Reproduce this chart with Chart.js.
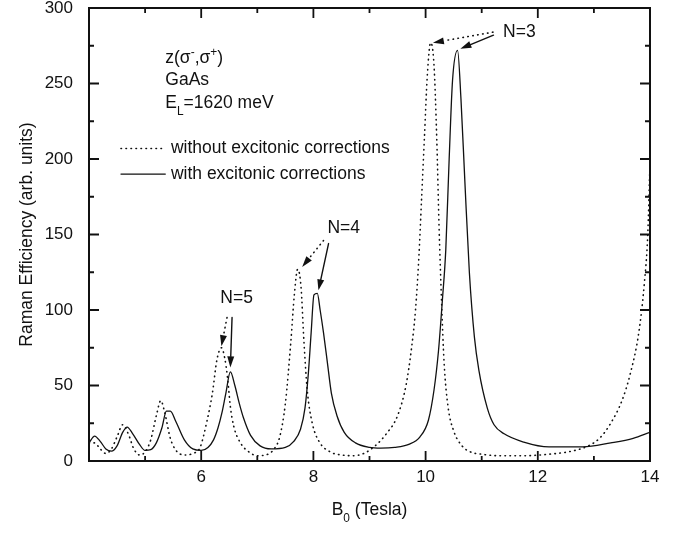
<!DOCTYPE html>
<html>
<head>
<meta charset="utf-8">
<script src="https://cdn.jsdelivr.net/npm/chart.js@4.4.1/dist/chart.umd.min.js"></script>
<style>
  html, body { margin: 0; padding: 0; background: #fff; }
  canvas { display: block; }
</style>
</head>
<body>
<canvas id="chart" width="685" height="533"></canvas>
<script>
// B0 (Tesla) and Raman efficiency
const withoutB = [4.0, 4.1, 4.2, 4.3, 4.4, 4.5, 4.6, 4.7, 4.8, 4.9, 5.0, 5.1, 5.2, 5.28, 5.35, 5.45, 5.55, 5.7,
  5.85, 5.98, 6.1, 6.2, 6.28, 6.36, 6.42, 6.47, 6.52, 6.58, 6.7, 6.85, 7.0, 7.15, 7.3, 7.4, 7.5, 7.6, 7.66,
  7.72, 7.78, 7.83, 7.89, 7.98, 8.1, 8.3, 8.5, 8.7, 8.9, 9.1, 9.3, 9.5, 9.65, 9.75, 9.82, 9.88, 9.93, 9.98,
  10.03, 10.09, 10.15, 10.2, 10.24, 10.28, 10.33, 10.4, 10.5, 10.65, 10.8, 11.0, 11.3, 11.75, 12.2, 12.6,
  12.9, 13.1, 13.3, 13.5, 13.65, 13.8, 13.9, 13.96, 14.0];
const withoutEff = [12, 12, 8, 5, 8, 16, 24, 18, 8, 4, 6, 14, 30, 40, 32, 15, 7, 4,
  5, 9, 26, 45, 67, 75, 68, 55, 36, 23, 12, 6, 3.5, 4, 8, 16, 38, 80, 110,
  127, 115, 80, 47, 25, 13, 6, 4, 3.5, 5, 10, 18, 30, 50, 75, 100, 135, 175, 215,
  255, 277, 262, 212, 155, 110, 65, 36, 20, 10, 6, 4.5, 3.5, 3.5, 4.5, 6.5,
  10, 15, 25, 40, 58, 85, 118, 150, 198];

const withB = [4.0, 4.1, 4.2, 4.3, 4.4, 4.5, 4.6, 4.68, 4.78, 4.9, 5.0, 5.1, 5.2, 5.3, 5.38, 5.45, 5.55, 5.7,
  5.85, 6.0, 6.12, 6.22, 6.3, 6.37, 6.44, 6.52, 6.6, 6.68, 6.75, 6.88, 7.05, 7.25, 7.5, 7.65, 7.77, 7.85,
  7.91, 7.96, 8.01, 8.07, 8.12, 8.18, 8.25, 8.32, 8.42, 8.55, 8.75, 9.0, 9.2, 9.45, 9.7, 9.9, 10.05, 10.15,
  10.23, 10.3, 10.36, 10.42, 10.48, 10.57, 10.63, 10.7, 10.78, 10.87, 10.95, 11.1, 11.22, 11.4, 11.75,
  12.2, 12.8, 13.3, 13.7, 14.0];
const withEff = [12, 16.5, 13, 8, 6.5, 10, 19, 22.5, 18, 11, 7, 7.5, 12, 22, 33, 33, 26, 14,
  8, 7, 9, 14, 22, 32, 45, 59, 50, 38, 29, 17, 10, 8, 9, 13, 21, 35,
  58, 85, 110, 111, 100, 85, 65, 45, 30, 19, 12, 9, 8.5, 9, 11, 16, 27, 47,
  73, 107, 140, 200, 252, 272, 240, 185, 125, 82, 60, 35, 24, 18, 12.5,
  9.3, 9.3, 12, 15, 19];

const xMajor = [4, 6, 8, 10, 12, 14];
const xMinor = [5, 7, 9, 11, 13];
const yMajor = [0, 50, 100, 150, 200, 250, 300];
const yMinor = [25, 75, 125, 175, 225, 275];

const FONT = '"Liberation Sans", Arial, Helvetica, sans-serif';
const INK = '#111';
const TXT = 17.5;

function toPts(xs, ys) {
  return xs.map(function (x, i) { return { x: x, y: ys[i] }; });
}

function richWidth(ctx, parts, size) {
  let w = 0;
  parts.forEach(function (p) {
    ctx.font = ((p.sub || p.sup) ? size * 0.68 : size) + 'px ' + FONT;
    w += ctx.measureText(p.t).width;
  });
  return w;
}

function rich(ctx, x, y, parts, size) {
  let cx = x;
  ctx.textAlign = 'left';
  ctx.textBaseline = 'middle';
  parts.forEach(function (p) {
    const s = (p.sub || p.sup) ? size * 0.68 : size;
    ctx.font = s + 'px ' + FONT;
    const dy = p.sub ? size * 0.5 : (p.sup ? -size * 0.3 : 0);
    ctx.fillText(p.t, cx, y + dy);
    cx += ctx.measureText(p.t).width;
  });
}

function arrow(ctx, x1, y1, x2, y2, dotted) {
  const ang = Math.atan2(y2 - y1, x2 - x1);
  const len = 11, half = 3.5;
  const bx = x2 - len * Math.cos(ang), by = y2 - len * Math.sin(ang);
  ctx.save();
  ctx.lineWidth = dotted ? 1.6 : 1.4;
  ctx.lineCap = 'round';
  ctx.setLineDash(dotted ? [0.5, 4.5] : []);
  ctx.beginPath();
  ctx.moveTo(x1, y1);
  ctx.lineTo(bx, by);
  ctx.stroke();
  ctx.setLineDash([]);
  ctx.beginPath();
  ctx.moveTo(x2, y2);
  ctx.lineTo(bx + half * Math.sin(ang), by - half * Math.cos(ang));
  ctx.lineTo(bx - half * Math.sin(ang), by + half * Math.cos(ang));
  ctx.closePath();
  ctx.fill();
  ctx.restore();
}

// labels and arrows, placed in data units
const notes = [
  { x: 5.36, y: 267, parts: [{ t: 'z(σ' }, { t: '-', sup: true }, { t: ',σ' }, { t: '+', sup: true }, { t: ')' }] },
  { x: 5.36, y: 252, parts: [{ t: 'GaAs' }] },
  { x: 5.36, y: 237, parts: [{ t: 'E' }, { t: 'L', sub: true }, { t: '=1620 meV' }] },
  { x: 11.38, y: 284, parts: [{ t: 'N=3' }] },
  { x: 8.25, y: 154, parts: [{ t: 'N=4' }] },
  { x: 6.34, y: 108, parts: [{ t: 'N=5' }] }
];
const arrows = [
  { from: [11.2, 284], to: [10.13, 277], dotted: true },
  { from: [11.21, 282], to: [10.62, 273], dotted: false },
  { from: [8.18, 146], to: [7.8, 128.5], dotted: true },
  { from: [8.27, 144], to: [8.09, 113], dotted: false },
  { from: [6.46, 95], to: [6.36, 76], dotted: true },
  { from: [6.55, 95], to: [6.52, 62], dotted: false }
];
const legendRows = [
  { y: 207, label: 'without excitonic corrections', dotted: true },
  { y: 190, label: 'with excitonic corrections', dotted: false }
];

const decor = {
  id: 'decor',
  afterDatasetsDraw(chart) {
    const ctx = chart.ctx, a = chart.chartArea;
    const xs = chart.scales.x, ys = chart.scales.y;
    ctx.save();
    ctx.strokeStyle = INK;
    ctx.fillStyle = INK;

    // frame and inward ticks on all sides
    ctx.lineWidth = 2;
    ctx.strokeRect(a.left, a.top, a.right - a.left, a.bottom - a.top);
    ctx.lineWidth = 1.8;
    function tickX(v, len) {
      const px = xs.getPixelForValue(v);
      ctx.beginPath();
      ctx.moveTo(px, a.bottom); ctx.lineTo(px, a.bottom - len);
      ctx.moveTo(px, a.top); ctx.lineTo(px, a.top + len);
      ctx.stroke();
    }
    function tickY(v, len) {
      const py = ys.getPixelForValue(v);
      ctx.beginPath();
      ctx.moveTo(a.left, py); ctx.lineTo(a.left + len, py);
      ctx.moveTo(a.right, py); ctx.lineTo(a.right - len, py);
      ctx.stroke();
    }
    xMajor.forEach(function (v) { tickX(v, 10); });
    xMinor.forEach(function (v) { tickX(v, 5); });
    yMajor.forEach(function (v) { tickY(v, 10); });
    yMinor.forEach(function (v) { tickY(v, 5); });

    // texts inside the plot
    notes.forEach(function (n) {
      rich(ctx, xs.getPixelForValue(n.x), ys.getPixelForValue(n.y), n.parts, TXT);
    });
    arrows.forEach(function (r) {
      arrow(ctx, xs.getPixelForValue(r.from[0]), ys.getPixelForValue(r.from[1]),
        xs.getPixelForValue(r.to[0]), ys.getPixelForValue(r.to[1]), r.dotted);
    });

    // legend
    legendRows.forEach(function (row) {
      const py = ys.getPixelForValue(row.y);
      const x0 = xs.getPixelForValue(4.57), x1 = xs.getPixelForValue(5.36);
      ctx.save();
      ctx.lineCap = 'round';
      ctx.lineWidth = row.dotted ? 1.6 : 1.3;
      ctx.setLineDash(row.dotted ? [0.5, 4.5] : []);
      ctx.beginPath();
      ctx.moveTo(x0, py); ctx.lineTo(x1, py);
      ctx.stroke();
      ctx.restore();
      rich(ctx, xs.getPixelForValue(5.46), py, [{ t: row.label }], TXT);
    });

    // axis titles
    const xt = [{ t: 'B' }, { t: '0', sub: true }, { t: ' (Tesla)' }];
    const w = richWidth(ctx, xt, TXT);
    rich(ctx, (a.left + a.right) / 2 - w / 2, 510, xt, TXT);

    ctx.translate(27, (a.top + a.bottom) / 2);
    ctx.rotate(-Math.PI / 2);
    ctx.font = TXT + 'px ' + FONT;
    ctx.textAlign = 'center';
    ctx.textBaseline = 'middle';
    ctx.fillText('Raman Efficiency (arb. units)', 0, 0);
    ctx.restore();
  }
};

new Chart(document.getElementById('chart'), {
  type: 'scatter',
  data: {
    datasets: [
      {
        label: 'without excitonic corrections',
        data: toPts(withoutB, withoutEff),
        showLine: true,
        pointRadius: 0,
        borderColor: INK,
        borderWidth: 1.6,
        borderDash: [0.5, 4.5],
        borderCapStyle: 'round',
        cubicInterpolationMode: 'monotone'
      },
      {
        label: 'with excitonic corrections',
        data: toPts(withB, withEff),
        showLine: true,
        pointRadius: 0,
        borderColor: INK,
        borderWidth: 1.3,
        cubicInterpolationMode: 'monotone'
      }
    ]
  },
  options: {
    responsive: false,
    animation: false,
    layout: { padding: { top: 8, right: 35, left: 0, bottom: 0 } },
    plugins: { legend: { display: false }, tooltip: { enabled: false } },
    scales: {
      x: {
        type: 'linear',
        min: 4,
        max: 14,
        afterBuildTicks: function (s) { s.ticks = xMajor.map(function (v) { return { value: v }; }); },
        afterFit: function (s) { s.height = 72; s.paddingLeft = 0; s.paddingRight = 0; },
        grid: { display: false, drawTicks: false },
        border: { display: false },
        ticks: {
          padding: 6,
          color: INK,
          font: { size: 17, family: FONT },
          maxRotation: 0,
          callback: function (v) { return v === 4 ? '' : v; }
        }
      },
      y: {
        min: 0,
        max: 300,
        afterBuildTicks: function (s) { s.ticks = yMajor.map(function (v) { return { value: v }; }); },
        afterFit: function (s) { s.width = 89; s.paddingTop = 0; s.paddingBottom = 0; },
        grid: { display: false, drawTicks: false },
        border: { display: false },
        ticks: { padding: 16, color: INK, font: { size: 17, family: FONT } }
      }
    }
  },
  plugins: [decor]
});
</script>
</body>
</html>
